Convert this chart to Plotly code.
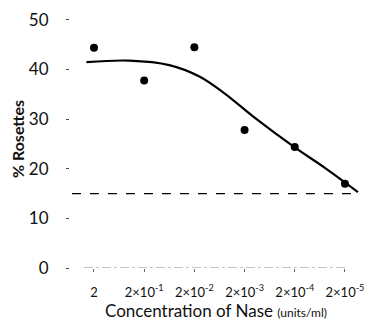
import plotly.graph_objects as go

categories = ["2", "2×10<sup>-1</sup>", "2×10<sup>-2</sup>", "2×10<sup>-3</sup>", "2×10<sup>-4</sup>", "2×10<sup>-5</sup>"]
cat_pos = [0, 1, 2, 3, 4, 5]
rosettes = [44.4, 37.8, 44.5, 27.8, 24.4, 17.0]

curve_x = [-0.15, 0.7, 1.5, 2.1, 2.6, 3.2, 4.0, 4.6, 5.26]
curve_y = [41.5, 41.8, 40.9, 38.6, 35.2, 30.3, 24.3, 20.2, 15.3]

baseline = 15
y_ticks = [0, 10, 20, 30, 40, 50]

FONT = "Lato"

fig = go.Figure()
fig.add_trace(go.Scatter(x=curve_x, y=curve_y, mode="lines",
                         line=dict(color="black", width=2.2, shape="spline", smoothing=1.0),
                         hoverinfo="skip"))
fig.add_trace(go.Scatter(x=cat_pos, y=rosettes, mode="markers",
                         marker=dict(color="black", size=8)))

fig.add_shape(type="line", xref="x", yref="y", x0=-0.44, x1=5.26, y0=baseline, y1=baseline,
              line=dict(color="black", width=1.3, dash="dash"))
fig.add_shape(type="line", xref="x", yref="y", x0=-0.2, x1=5.0, y0=0, y1=0,
              line=dict(color="#888", width=1, dash="dashdot"))

fig.update_layout(
    width=369, height=331,
    margin=dict(l=70, r=7, t=10, b=63),
    paper_bgcolor="white", plot_bgcolor="white",
    showlegend=False,
    font=dict(family=FONT, color="#111"),
    xaxis=dict(range=[-0.478, 5.34], tickvals=cat_pos, ticktext=categories,
               showgrid=False, zeroline=False, showline=False, automargin=False,
               ticks="outside", ticklen=3, tickcolor="#666",
               tickfont=dict(size=13, family=FONT), ticklabelstandoff=9,
               title=dict(text="Concentration of Nase <span style='font-size:12px'>(units/ml)</span>",
                          font=dict(size=17, family=FONT), standoff=3)),
    yaxis=dict(range=[0, 52.0], tickvals=y_ticks, showgrid=False, zeroline=False, showline=False,
               automargin=False,
               ticks="outside", ticklen=3, tickcolor="#444",
               tickfont=dict(size=17, family=FONT), ticklabelstandoff=14,
               title=dict(text="<b>% Rosettes</b>", font=dict(size=16, family=FONT), standoff=0)),
)

fig.write_html("out.html", config={"displayModeBar": False},
               post_script="document.body.style.margin='0';document.body.style.overflow='hidden';")
